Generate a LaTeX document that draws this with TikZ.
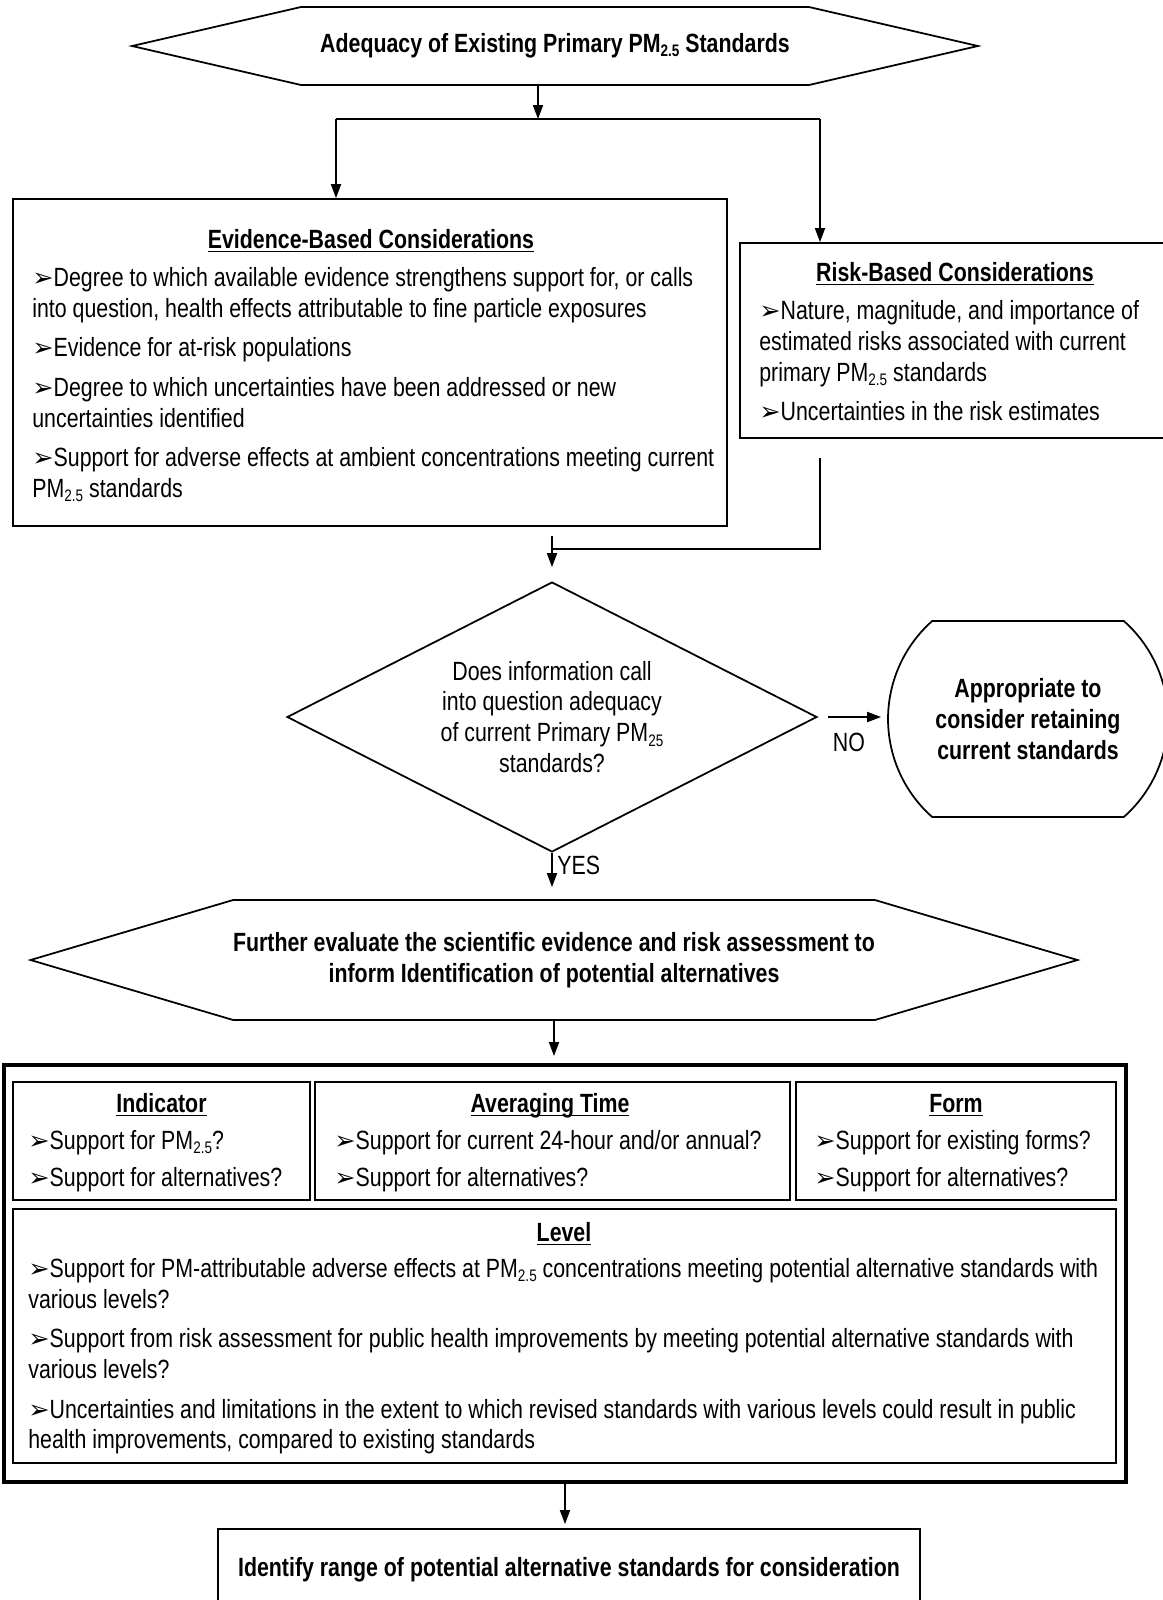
\documentclass[tikz,border=0pt]{standalone}
\usepackage{fontspec}
\setmainfont{Liberation Sans}[FakeStretch=0.81]
\newfontfamily\dejavu{DejaVu Sans}
\usetikzlibrary{arrows.meta,shapes.symbols,shapes.geometric,shapes.misc}
\newcommand{\fs}{\fontsize{15pt}{17.6pt}\selectfont}
\newcommand{\bul}{{\dejavu\fontsize{14.5pt}{14.5pt}\selectfont\char"27A2}}
\newcommand{\pmsub}[1]{PM\raisebox{-0.3ex}{\fontsize{9.5pt}{9.5pt}\selectfont#1}}
\newcommand{\ul}[1]{\underline{\smash{#1}}}
\tikzset{
    every node/.style={font=\fs},
    frame/.style={draw,line width=1pt,inner sep=0pt},
    hexa/.style={
        signal,signal to=east and west,draw,line width=1pt,
        inner sep=0pt,align=center,font=\fs\bfseries
    },
    ask/.style={diamond,draw,line width=1pt,inner sep=0pt,align=center,shape aspect=2},
    term/.style={
        rounded rectangle,rounded rectangle arc length=97,draw,line width=1pt,
        inner sep=0pt,align=center,font=\fs\bfseries
    },
    head/.style={inner sep=0pt,anchor=base,font=\fs\bfseries},
    body/.style={align=left,inner sep=0pt,anchor=north west},
    arrow/.style={-{Triangle[length=0.28cm,width=0.2cm]},line width=1pt}
}

\begin{document}
\begin{tikzpicture}[x=0.02cm,y=-0.02cm]
\useasboundingbox (0,0) rectangle (1163,1600);

% start
\node[hexa,minimum width=16.92cm,minimum height=1.56cm,signal pointer angle=26]
(adeq) at (555,46) {Adequacy of Existing Primary \pmsub{2.5} Standards};

\coordinate (split) at (538,119);
\coordinate (lsplit) at (336,119);
\coordinate (rsplit) at (820,119);

% evidence and risk
\node[frame,minimum width=14.28cm,minimum height=6.54cm] (evid) at (370,362.5) {};
\node[head] (evidh) at (371,248.5) {\ul{Evidence-Based Considerations}};
\node[body] (evidb) at (32,267) {%
\bul Degree to which available evidence strengthens support for, or calls\\
into question, health effects attributable to fine particle exposures\\[4.8pt]
\bul Evidence for at-risk populations\\[4.8pt]
\bul Degree to which uncertainties have been addressed or new\\
uncertainties identified\\[4.8pt]
\bul Support for adverse effects at ambient concentrations meeting current\\
\pmsub{2.5} standards};

\node[frame,minimum width=9cm,minimum height=3.9cm] (risk) at (965,340.5) {};
\node[head] (riskh) at (955,281.5) {\ul{Risk-Based Considerations}};
\node[body] (riskb) at (759,300) {%
\bul Nature, magnitude, and importance of\\
estimated risks associated with current\\
primary \pmsub{2.5} standards\\[4.8pt]
\bul Uncertainties in the risk estimates};

\draw[arrow] (adeq.south -| split) -- (split);
\draw[line width=1pt] (lsplit) -- (rsplit);
\draw[arrow] (lsplit) -- (lsplit |- evid.north);
\draw[arrow] (rsplit) -- (rsplit |- risk.north);

% decision
\node[ask,minimum width=10.6cm,minimum height=5.4cm] (ask) at (552,717)
{Does information call\\into question adequacy\\of current Primary \pmsub{25}\\standards?};

\coordinate (join) at (552,549);
\draw[line width=1pt,shorten <=0.38cm] (risk.south -| rsplit) |- (join);
\draw[arrow,shorten <=0.18cm,shorten >=0.28cm] (evid.south -| join) -- (ask.north);

\node[term,minimum width=5.6cm,minimum height=3.92cm] (keep) at (1028,719)
{Appropriate to\\consider retaining\\current standards};
\draw[arrow,shorten <=0.2cm,shorten >=0.12cm] (ask.east) -- (ask.east -| keep.west);
\node (no) at (849,742) {NO};

\node[hexa,minimum width=20.72cm,minimum height=2.4cm,signal pointer angle=33]
(evalu) at (554,960)
{Further evaluate the scientific evidence and risk assessment to\\
inform Identification of potential alternatives};
\draw[arrow,shorten >=0.24cm] (ask.south) -- (ask.south |- evalu.north);
\node[anchor=west,inner sep=0pt] (yes) at (557,865) {YES};

% elements of the standard
\node[frame,line width=2.3pt,minimum width=22.44cm,minimum height=8.34cm] (crit) at (565,1273.5) {};
\draw[arrow,shorten >=0.14cm] (evalu.south) -- (evalu.south |- crit.north);

\node[frame,minimum width=5.94cm,minimum height=2.36cm] (ind) at (161.5,1141) {};
\node[head] (indh) at (161.5,1112.5) {\ul{Indicator}};
\node[body] (indb) at (28,1130) {%
\bul Support for \pmsub{2.5}?\\[3.4pt]
\bul Support for alternatives?};

\node[frame,minimum width=9.5cm,minimum height=2.36cm] (avg) at (552.5,1141) {};
\node[head] (avgh) at (550,1112.5) {\ul{Averaging Time}};
\node[body] (avgb) at (334,1130) {%
\bul Support for current 24-hour and/or annual?\\[3.4pt]
\bul Support for alternatives?};

\node[frame,minimum width=6.4cm,minimum height=2.36cm] (form) at (956,1141) {};
\node[head] (formh) at (956,1112.5) {\ul{Form}};
\node[body] (formb) at (814,1130) {%
\bul Support for existing forms?\\[3.4pt]
\bul Support for alternatives?};

\node[frame,minimum width=22.06cm,minimum height=5.08cm] (lev) at (564.5,1336) {};
\node[head] (levh) at (564,1241.5) {\ul{Level}};
\node[body] (levb) at (28,1258) {%
\bul Support for PM-attributable adverse effects at \pmsub{2.5} concentrations meeting potential alternative standards with\\
various levels?\\[4.8pt]
\bul Support from risk assessment for public health improvements by meeting potential alternative standards with\\
various levels?\\[4.8pt]
\bul Uncertainties and limitations in the extent to which revised standards with various levels could result in public\\
health improvements, compared to existing standards};

% result
\node[frame,minimum width=14.04cm,minimum height=1.64cm,font=\fs\bfseries] (iden) at (569,1570)
{Identify range of potential alternative standards for consideration};
\draw[arrow,shorten >=0.08cm] (crit.south) -- (crit.south |- iden.north);

\end{tikzpicture}
\end{document}
